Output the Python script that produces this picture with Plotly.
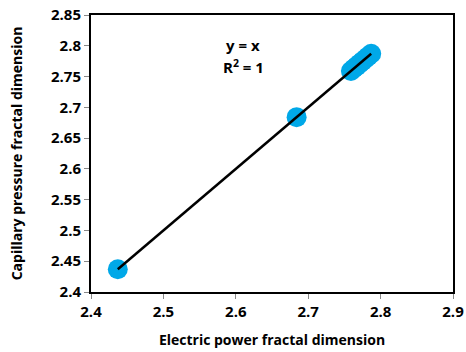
import plotly.graph_objects as go

electric_dim = [2.437, 2.684, 2.759, 2.763, 2.767, 2.771, 2.775, 2.779, 2.783, 2.787]
capillary_dim = [2.437, 2.684, 2.759, 2.763, 2.767, 2.771, 2.775, 2.779, 2.783, 2.787]
x_ticks = [2.4, 2.5, 2.6, 2.7, 2.8, 2.9]
y_ticks = [2.4, 2.45, 2.5, 2.55, 2.6, 2.65, 2.7, 2.75, 2.8, 2.85]

fit_x = [min(electric_dim), max(electric_dim)]
fit_y = fit_x

font_fam = "Open Sans"

fig = go.Figure()
fig.add_trace(go.Scatter(x=electric_dim, y=capillary_dim, mode="markers",
                         marker=dict(size=20, color="#00A8E8"), showlegend=False))
fig.add_trace(go.Scatter(x=fit_x, y=fit_y, mode="lines",
                         line=dict(color="black", width=2.5), showlegend=False))

fig.add_annotation(x=2.61, y=2.801, xref="x", yref="y", text="<b>y = x</b>",
                   showarrow=False, font=dict(family=font_fam, size=15, color="black"))
fig.add_annotation(x=2.61, y=2.766, xref="x", yref="y", text="<b>R<sup>2</sup> = 1</b>",
                   showarrow=False, font=dict(family=font_fam, size=15, color="black"))

fig.update_layout(
    width=466, height=352,
    margin=dict(l=91, r=13, t=15, b=60),
    plot_bgcolor="white", paper_bgcolor="white",
    font=dict(family=font_fam, color="black"),
    xaxis=dict(range=[2.4, 2.9], tickvals=x_ticks, ticktext=[f"<b>{v:g}</b>" for v in x_ticks],
               ticks="outside", ticklen=5, tickcolor="#888", showgrid=False, zeroline=False,
               showline=True, linecolor="black", linewidth=2, mirror=True,
               ticklabeloverflow="allow", automargin=False,
               tickfont=dict(size=15, family=font_fam),
               title=dict(text="<b>Electric power fractal dimension</b>", font=dict(size=14, family=font_fam), standoff=15)),
    yaxis=dict(range=[2.4, 2.85], tickvals=y_ticks, ticktext=[f"<b>{v:g}</b>" for v in y_ticks],
               ticks="outside", ticklen=5, tickcolor="#888", showgrid=False, zeroline=False,
               showline=True, linecolor="black", linewidth=2, mirror=True,
               ticklabeloverflow="allow", automargin=False,
               tickfont=dict(size=15, family=font_fam),
               title=dict(text="<b>Capillary pressure fractal dimension</b>", font=dict(size=14, family=font_fam), standoff=25)),
)

fig.write_html("out.html", config={"displayModeBar": False},
               post_script="document.body.style.margin='0';document.documentElement.style.overflow='hidden';")
